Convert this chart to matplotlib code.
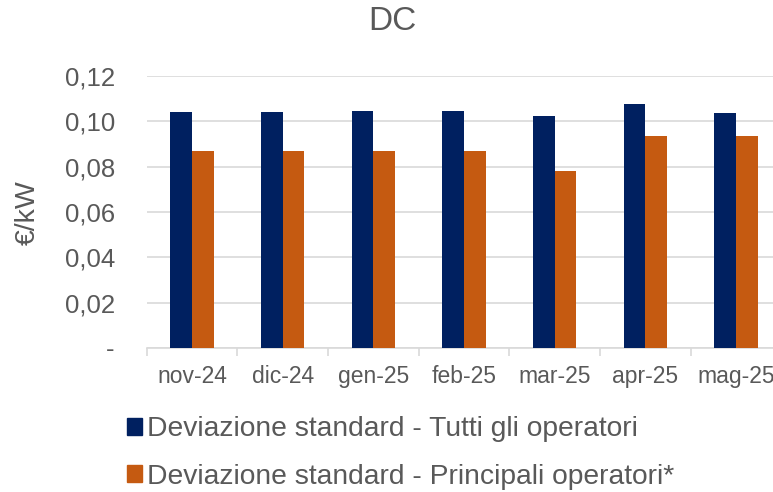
import matplotlib
matplotlib.use("Agg")
from matplotlib import pyplot as plt
from matplotlib.ticker import FuncFormatter, FixedLocator
from matplotlib.patches import Patch
import numpy as np

plt.rcParams['font.family'] = ['Liberation Sans', 'DejaVu Sans']

mesi = ["nov-24", "dic-24", "gen-25", "feb-25", "mar-25", "apr-25", "mag-25"]
tutti = [0.1041, 0.1041, 0.1044, 0.1044, 0.1025, 0.1074, 0.1037]
principali = [0.0868, 0.0868, 0.0868, 0.0868, 0.0782, 0.0937, 0.0937]
serie_nomi = ["Deviazione standard - Tutti gli operatori",
              "Deviazione standard - Principali operatori*"]

blu = "#002060"
arancio = "#C55A11"
grigio = "#595959"
griglia = "#D9D9D9"

fig = plt.figure(figsize=(7.73, 4.92), dpi=100)
# l'asse esce a destra oltre il bordo, come nell'originale (mag-25 tagliato)
ax = fig.add_axes([0.1898, 0.2927, 0.821, 0.553])

x = np.arange(len(mesi))
w = 0.238
ax.bar(x - w / 2, tutti, w, color=blu, zorder=3)
ax.bar(x + w / 2, principali, w, color=arancio, zorder=3)

ax.set_xlim(-0.5, len(mesi) - 0.5)
ax.set_ylim(0, 0.12)
ax.set_yticks(np.arange(0, 0.121, 0.02))
ax.yaxis.set_major_formatter(FuncFormatter(
    lambda v, p: "-" if abs(v) < 1e-9 else ("%.2f" % v).replace(".", ",")))
ax.grid(axis="y", color=griglia, linewidth=1.2, zorder=0)

ax.set_xticks(x)
ax.set_xticklabels(mesi)
ax.xaxis.set_minor_locator(FixedLocator(np.arange(len(mesi)) - 0.5))
ax.tick_params(axis="x", which="major", length=0, pad=12, labelsize=16.5, colors=grigio)
ax.tick_params(axis="x", which="minor", length=6, width=1.2, color=griglia)
ax.tick_params(axis="y", length=0, pad=23, labelsize=18.5, colors=grigio)

for s in ["top", "right", "left"]:
    ax.spines[s].set_visible(False)
ax.spines["bottom"].set_color(griglia)
ax.spines["bottom"].set_linewidth(1.2)

fig.text(28 / 773, 1 - 213 / 492, "€/kW", rotation=90, ha="center", va="center",
         fontsize=20.5, color=grigio)
fig.text(0.508, 1 - 22 / 492, "DC", ha="center", va="center", fontsize=24, color=grigio)

handles = [Patch(color=blu), Patch(color=arancio)]
fig.legend(handles, serie_nomi, loc="center left", bbox_to_anchor=(127 / 773, 1 - 453 / 492),
           frameon=False, fontsize=20.3, labelcolor=grigio, handlelength=0.52,
           handleheight=0.52, handletextpad=0.2, labelspacing=0.75, borderaxespad=0,
           borderpad=0)

fig.savefig("out.png", dpi=100)
